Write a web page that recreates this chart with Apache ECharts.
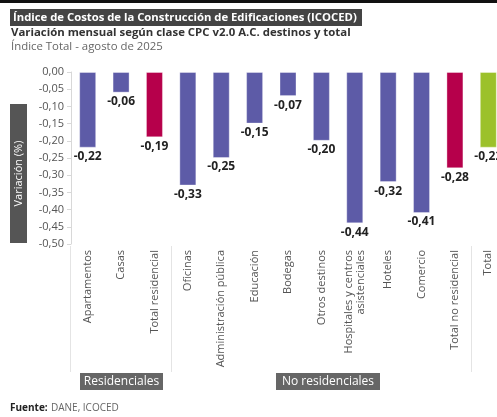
<!DOCTYPE html>
<html><head><meta charset="utf-8">
<script src="https://cdn.jsdelivr.net/npm/echarts@6/dist/echarts.min.js"></script>
<style>html,body{margin:0;padding:0;overflow:hidden;background:#fff;width:497px;height:417px}#c{width:520px;height:417px}</style>
</head><body><div id="c"></div>
<script>
const categories = ['Apartamentos','Casas','Total residencial','Oficinas','Administración pública','Educación','Bodegas','Otros destinos','Hospitales y centros\nasistenciales','Hoteles','Comercio','Total no residencial','Total'];
const values = [-0.22,-0.06,-0.19,-0.33,-0.25,-0.15,-0.07,-0.20,-0.44,-0.32,-0.41,-0.28,-0.22];
const kinds = ['d','d','tr','d','d','d','d','d','d','d','d','tnr','t'];
const colorMap = {d:'#5d5ba7', tr:'#b6004b', tnr:'#b6004b', t:'#9cc12b'};
const yTicks = {min:-0.5, max:0, interval:0.05};
const FONT = '"Open Sans", sans-serif';

const chart = echarts.init(document.getElementById('c'));
chart.setOption({
  animation:false,
  textStyle:{fontFamily:FONT},
  grid:{left:71, top:72, right:15, height:172, containLabel:false},
  xAxis:{type:'category', data:categories, position:'bottom',
    axisLine:{show:false}, axisTick:{show:false},
    axisLabel:{rotate:90, margin:6, color:'#555', fontSize:11, lineHeight:12, fontFamily:FONT, interval:0}},
  yAxis:{type:'value', min:yTicks.min, max:yTicks.max, interval:yTicks.interval,
    axisLine:{show:true, lineStyle:{color:'#d8d8d8'}},
    axisTick:{show:true, length:4, lineStyle:{color:'#d8d8d8'}},
    splitLine:{show:false},
    axisLabel:{margin:7, color:'#555', fontSize:11, fontFamily:FONT,
      formatter:v=>v.toFixed(2).replace('.',',')}},
  series:[{type:'bar', barWidth:17,
    data:values.map((v,i)=>({value:v, itemStyle:{color:colorMap[kinds[i]]}})),
    itemStyle:{borderColor:'rgba(255,255,255,0.35)', borderWidth:1},
    label:{show:true, position:'bottom', distance:3, color:'#222', fontSize:12, fontWeight:'bold', fontFamily:FONT,
      formatter:p=>p.value.toFixed(2).replace('.',',')}}],
  graphic:[
    {type:'rect', shape:{x:0,y:0,width:520,height:3}, style:{fill:'#111'}},
    {type:'rect', shape:{x:10,y:9,width:352,height:17}, style:{fill:'#444'}},
    {type:'text', x:13, y:17.5, style:{text:'Índice de Costos de la Construcción de Edificaciones (ICOCED)', fill:'#fff', font:'bold 11.3px '+FONT, verticalAlign:'middle'}},
    {type:'text', x:11, y:33, style:{text:'Variación mensual según clase CPC v2.0 A.C. destinos y total', fill:'#333', font:'bold 11.4px '+FONT, verticalAlign:'middle'}},
    {type:'text', x:11, y:47, style:{text:'Índice Total - agosto de 2025', fill:'#666', font:'11.4px '+FONT, verticalAlign:'middle'}},
    {type:'rect', shape:{x:10,y:104,width:17,height:139}, style:{fill:'#555'}},
    {type:'text', x:18.5, y:173.5, rotation:Math.PI/2, style:{text:'Variación (%)', fill:'#fff', font:'11px '+FONT, align:'center', verticalAlign:'middle'}},
    {type:'line', shape:{x1:70.5,y1:246,x2:70.5,y2:372}, style:{stroke:'#e4e4e4', lineWidth:1}},
    {type:'line', shape:{x1:171.5,y1:246,x2:171.5,y2:372}, style:{stroke:'#e4e4e4', lineWidth:1}},
    {type:'line', shape:{x1:471.5,y1:246,x2:471.5,y2:372}, style:{stroke:'#e4e4e4', lineWidth:1}},
    {type:'rect', shape:{x:80,y:373,width:83,height:17}, style:{fill:'#666'}},
    {type:'text', x:121.5, y:381.5, style:{text:'Residenciales', fill:'#fff', font:'12px '+FONT, align:'center', verticalAlign:'middle'}},
    {type:'rect', shape:{x:276,y:373,width:104,height:17}, style:{fill:'#666'}},
    {type:'text', x:328, y:381.5, style:{text:'No residenciales', fill:'#fff', font:'12px '+FONT, align:'center', verticalAlign:'middle'}},
    {type:'text', left:10, top:402, style:{rich:{b:{fill:'#222', font:'bold 10px '+FONT}, n:{fill:'#666', font:'10px '+FONT}}, text:'{b|Fuente:} {n|DANE, ICOCED}'}}
  ]
});
</script></body></html>
